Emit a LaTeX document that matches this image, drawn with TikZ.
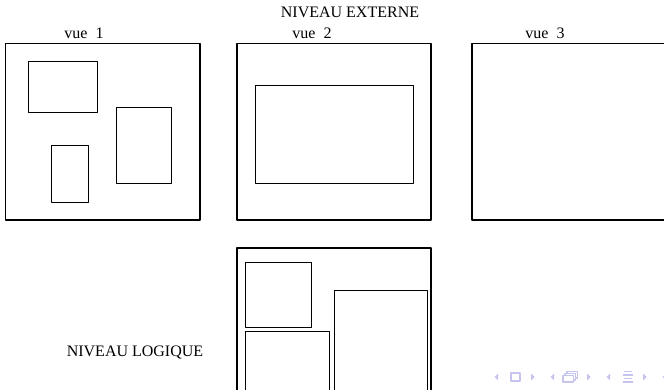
\documentclass[tikz,border=0pt]{standalone}
\usepackage{fontspec}
\setmainfont{Liberation Serif}
\usetikzlibrary{positioning}
\definecolor{navcol}{RGB}{196,196,236}
\tikzset{
  vue/.style={line width=0.9pt},
  table/.style={line width=0.5pt},
  titre/.style={font=\fontsize{8}{10}\selectfont, inner sep=0pt, anchor=base},
  navtri/.style={navcol, fill=navcol},
  navline/.style={navcol, line width=0.6pt}
}

\begin{document}
\begin{tikzpicture}[x=0.5pt,y=-0.5pt,line join=round]
\clip (0,0) rectangle (664,390);
% niveau externe
\draw[vue] (5.5,43.5) rectangle (200,220)
	(237,43.5) rectangle (431,220)
	(472,43.5) rectangle (670,220);
\draw[table] (28,61.7) rectangle (97.3,113)
	(116.3,107.3) rectangle (171.7,183)
	(51,145.7) rectangle (88.3,202)
	(255.3,85.7) rectangle (413.7,183);
\node[titre] (externe) at (350,17.3) {NIVEAU EXTERNE};
\node[titre] (vue1) at (84,39) {vue~~1};
\node[titre] (vue2) at (312,39) {vue~~2};
\node[titre] (vue3) at (545,39) {vue~~3};
% niveau logique
\draw[vue] (237,247.7) rectangle (431,400);
\draw[table] (245.3,262) rectangle (311.7,327.3)
	(245.3,331) rectangle (329.7,400)
	(334.3,290) rectangle (427.7,400);
\node[titre] (logique) at (135,356) {NIVEAU LOGIQUE};
% symboles de navigation
\foreach \x in {498,554,610,666}
	{\fill[navtri] (\x,373.5) -- (\x,380.5) -- (\x-3.5,377) -- cycle;}
\foreach \x in {531,587,643}
	{\fill[navtri] (\x,373.5) -- (\x,380.5) -- (\x+3.5,377) -- cycle;}
\draw[navline] (511,373) rectangle (520,381);
\draw[navline,fill=white] (567,371.5) rectangle (577.5,378);
\draw[navline,fill=white] (565,373.5) rectangle (575.5,380);
\draw[navline,fill=white] (563,375.5) rectangle (573.5,382);
\draw[navline] (624,371.5) -- (632,371.5) (623,375) -- (633,375)
	(624,378.5) -- (632,378.5) (623,382) -- (633,382);
\end{tikzpicture}
\end{document}
